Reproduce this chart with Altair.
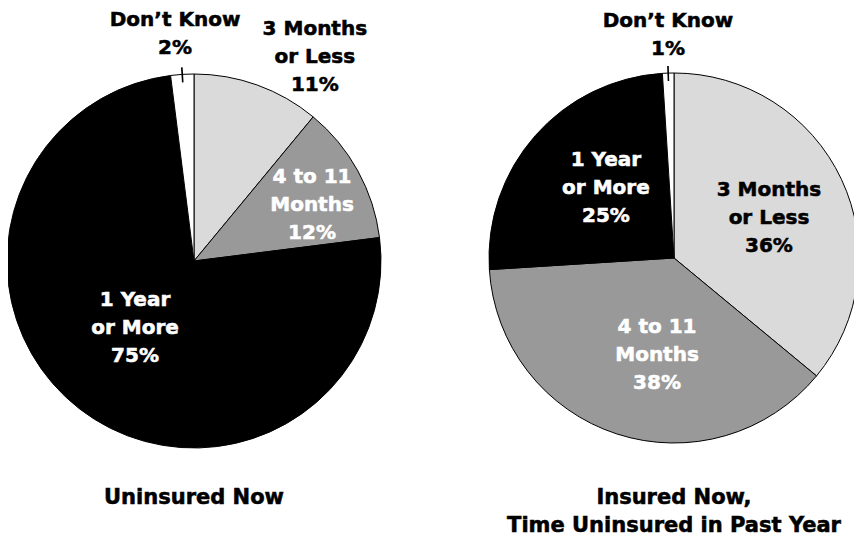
import math
import altair as alt
import pandas as pd

# ---------------- data ----------------
categories = ["3 Months or Less", "4 to 11 Months", "1 Year or More", "Don’t Know"]
label_lines = [["3 Months", "or Less"], ["4 to 11", "Months"], ["1 Year", "or More"], ["Don’t Know"]]
uninsured_now = [11, 12, 75, 2]
insured_now = [36, 38, 25, 1]
panel_titles = ["Uninsured Now", "Insured Now,\nTime Uninsured in Past Year"]

# ---------------- styling / layout ----------------
fills = ["#dadada", "#999999", "#000000", "#ffffff"]
text_on_dark = [False, True, True, False]   # white label text for these slices
FONT = "DejaVu Sans"
FS = 20
TFS = 21
LH = 28
SW = 0.55
W, H = 846, 528
OFF = 8  # page margin

pies = [
    dict(values=uninsured_now, cx=194, cy=261, r=187,
         # first-line placement of each label: (angle deg clockwise from top, radius px)
         label_pos=[(27.5, 261.7), (54.6, 144.8), (236.5, 70.7), (355.5, 241.7)],
         title=panel_titles[0], title_y=498),
    dict(values=insured_now, cx=674, cy=258, r=185,
         label_pos=[(54.4, 116.8), (193.8, 71.1), (325.2, 119.3), (358.55, 237.1)],
         title=panel_titles[1], title_y=498),
]

theta_scale = alt.Scale(domain=[0, 100], range=[0, 2 * math.pi])
color_scale = alt.Scale(domain=categories, range=fills)

layers = []
for p in pies:
    cx, cy, r = p["cx"] - OFF, p["cy"] - OFF, p["r"]
    vals = p["values"]
    arcs = pd.DataFrame({"category": categories, "value": vals, "ord": list(range(len(vals)))})
    arc = alt.Chart(arcs).mark_arc(outerRadius=r, stroke="black", strokeWidth=1).encode(
        theta=alt.Theta("value:Q", stack=True, scale=theta_scale),
        color=alt.Color("category:N", scale=color_scale, legend=None),
        order=alt.Order("ord:Q"),
        x=alt.value(cx), y=alt.value(cy),
    )
    layers.append(arc)

    # leader tick for the last (Don't Know) slice at its mid angle
    mid = sum(vals[:-1]) + vals[-1] / 2
    tick = pd.DataFrame({"t1": [mid - 0.07], "t2": [mid + 0.07]})
    tk = alt.Chart(tick).mark_arc(innerRadius=r - 8, outerRadius=r + 7, color="black").encode(
        theta=alt.Theta("t1:Q", stack=False, scale=theta_scale),
        theta2=alt.Theta2("t2:Q"),
        x=alt.value(cx), y=alt.value(cy),
    )
    layers.append(tk)

    for dark in (False, True):
        rows = []
        for i, c in enumerate(categories):
            if text_on_dark[i] != dark:
                continue
            ang, rad = p["label_pos"][i]
            rows.append({"text": "\n".join(label_lines[i] + [f"{vals[i]}%"]),
                         "t": ang / 360 * 100, "rad": rad})
        df = pd.DataFrame(rows)
        col = "white" if dark else "black"
        lab = alt.Chart(df).mark_text(
            font=FONT, fontSize=FS, fontWeight="bold", lineBreak="\n", lineHeight=LH,
            align="center", baseline="middle", color=col, stroke=col, strokeWidth=SW,
        ).encode(
            theta=alt.Theta("t:Q", stack=False, scale=theta_scale),
            radius=alt.Radius("rad:Q", scale=None),
            text="text:N",
            x=alt.value(cx), y=alt.value(cy),
        )
        layers.append(lab)

    tdf = pd.DataFrame({"text": [p["title"]]})
    ttl = alt.Chart(tdf).mark_text(
        font=FONT, fontSize=TFS, fontWeight="bold", lineBreak="\n", lineHeight=LH,
        align="center", baseline="middle", color="black", stroke="black", strokeWidth=SW,
    ).encode(text="text:N", x=alt.value(cx), y=alt.value(p["title_y"] - OFF))
    layers.append(ttl)

chart = alt.layer(*layers).properties(
    width=W, height=H, autosize=alt.AutoSizeParams(type="none"), padding=0,
).configure_view(stroke=None)

chart.save("out.html", embed_options={"renderer": "svg", "actions": False})
